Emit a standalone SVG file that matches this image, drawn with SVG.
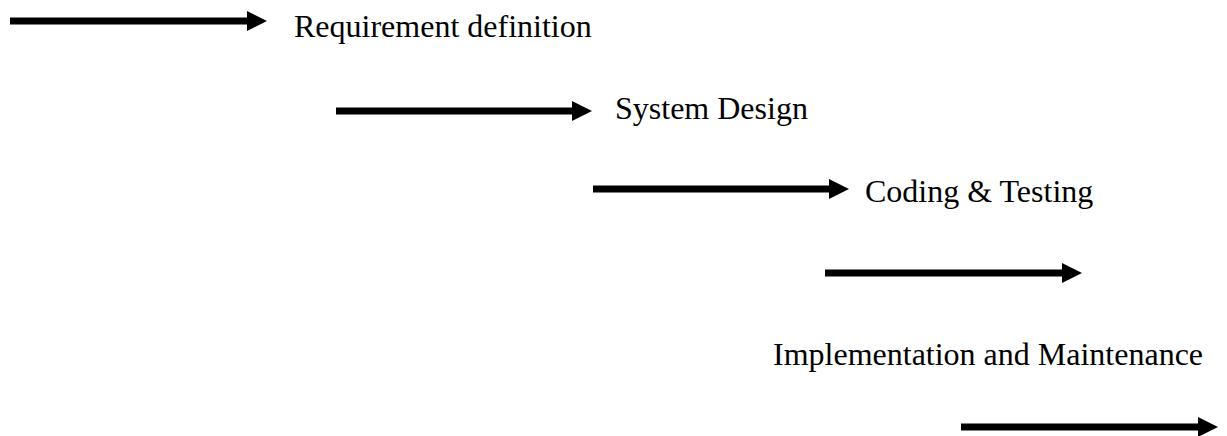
<svg xmlns="http://www.w3.org/2000/svg" width="1227" height="436" viewBox="0 0 1227 436">
<style>
.lbl{font-family:"Liberation Serif","Times New Roman",serif;font-size:32px;fill:#000}
.arr{stroke:#000;stroke-width:7;fill:none;marker-end:url(#head)}
</style>
<defs>
<marker id="head" markerUnits="userSpaceOnUse" markerWidth="24" markerHeight="24" viewBox="0 -12 24 24" refX="0" refY="0" orient="auto">
<path d="M0,-10 L20,0 L0,10 Z" fill="#000"/>
</marker>
</defs>
<rect width="1227" height="436" fill="#fff"/>
<g id="connectors">
<line class="arr" x1="10" y1="21" x2="247" y2="21"/>
<line class="arr" x1="336" y1="111" x2="572" y2="111"/>
<line class="arr" x1="593" y1="189" x2="829" y2="189"/>
<line class="arr" x1="825" y1="273" x2="1062" y2="273"/>
<line class="arr" x1="961" y1="427" x2="1198" y2="427"/>
</g>
<g id="requirement-definition"><text class="lbl" x="294" y="37">Requirement definition</text></g>
<g id="system-design"><text class="lbl" x="615" y="119">System Design</text></g>
<g id="coding-testing"><text class="lbl" x="865" y="202">Coding &amp; Testing</text></g>
<g id="implementation-maintenance"><text class="lbl" x="773" y="365">Implementation and Maintenance</text></g>
</svg>
